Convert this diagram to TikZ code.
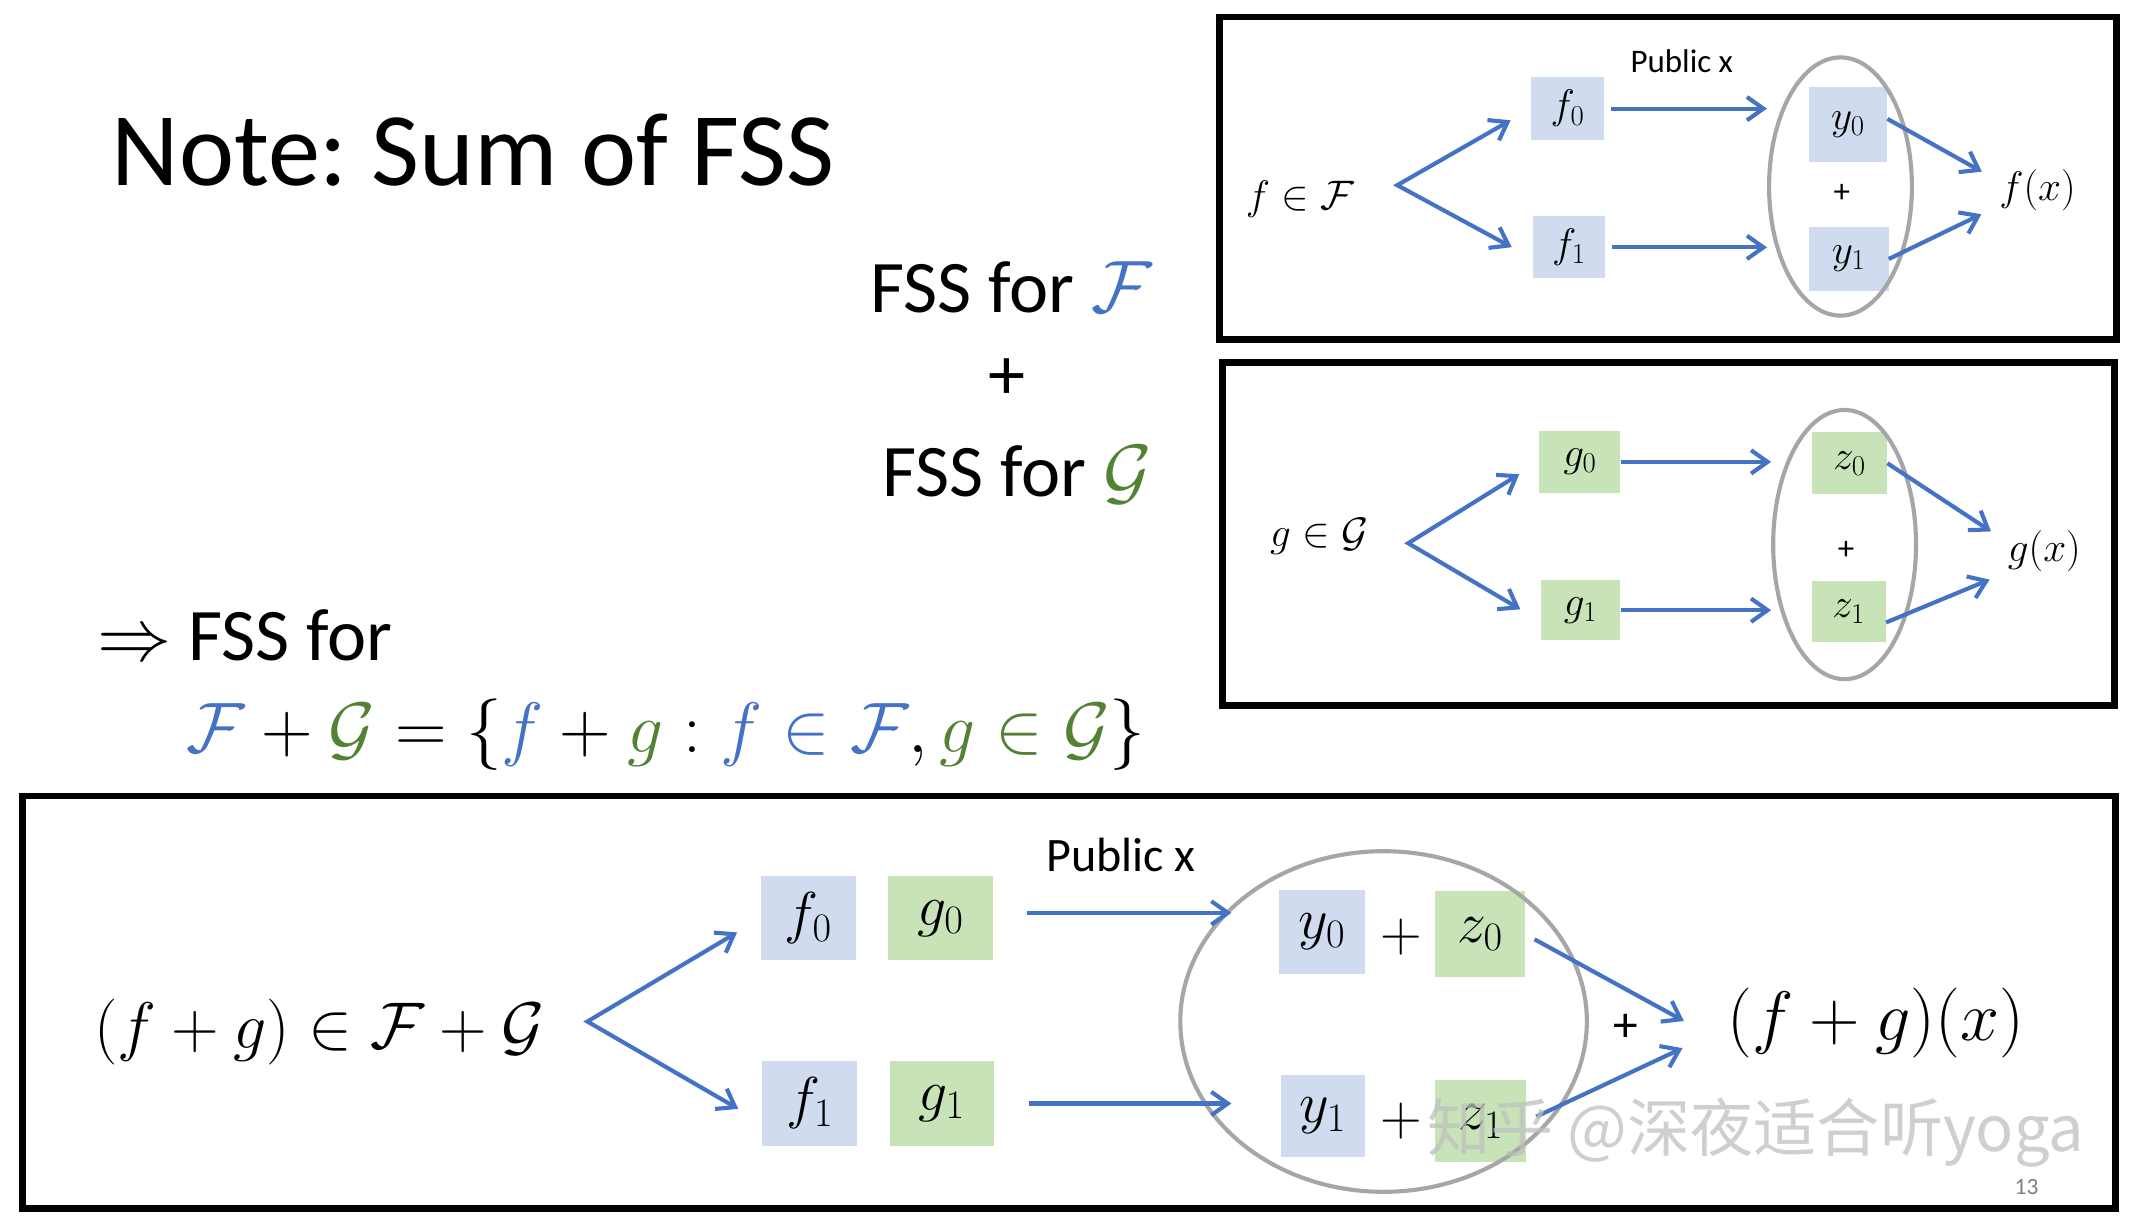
\RequirePackage{fix-cm}
\documentclass[tikz,border=0pt]{standalone}
\usepackage{fontspec}
\setmainfont{Carlito}
\newfontfamily\cjkfont{Noto Sans CJK SC}
\usetikzlibrary{arrows.meta,shapes.geometric}
\definecolor{fssblue}{HTML}{4472C4}
\definecolor{fssgreen}{HTML}{548235}
\definecolor{bluefill}{HTML}{D0DBF0}
\definecolor{greenfill}{HTML}{C9E3B9}
\definecolor{ringgray}{HTML}{A6A6A6}
\frenchspacing
\begin{document}
\begin{tikzpicture}[x=1pt,y=1pt,>={Straight Barb[length=12pt,width=17pt]},
    every node/.style={inner sep=2pt},
    arr/.style={->,draw=fssblue,line width=3pt},
    fork/.style={<->,draw=fssblue,line width=3pt,shorten <=17pt,shorten >=17pt},
    frame/.style={draw=black,line width=5pt},
    ring/.style={draw=ringgray,line width=3pt,ellipse,inner sep=0pt},
    bluebox/.style={fill=bluefill,inner sep=0pt},
    greenbox/.style={fill=greenfill,inner sep=0pt},
    heading/.style={font=\fontsize{54}{64}\selectfont},
    small/.style={font=\fontsize{30}{36}\selectfont},
    big/.style={font=\fontsize{42}{50}\selectfont},
    huge/.style={font=\fontsize{48}{56}\selectfont}]
\fill[white] (0,0) rectangle (1561,895);
\useasboundingbox (0,0) rectangle (1561,895);
\begin{scope}[xshift=-0.6pt,yshift=4pt,xscale=.996,yscale=.995]
% left column
\node[anchor=base west,font=\fontsize{76}{90}\selectfont] (title) at (80,760) {Note: Sum of FSS};
\node[heading,anchor=base east] (sumF) at (845,667) {FSS for \textcolor{fssblue}{$\mathcal{F}$}};
\node[heading] (plusFG) at (737,618) {+};
\node[heading,anchor=base east] (sumG) at (845,532) {FSS for \textcolor{fssgreen}{$\mathcal{G}$}};
\node[heading,anchor=base west] (hence) at (70,412) {$\Rightarrow$ FSS for};
\node[font=\fontsize{52}{62}\selectfont,anchor=base west] (setFG) at (135,345)
  {${\color{fssblue}\mathcal{F}}+{\color{fssgreen}\mathcal{G}}=\{{\color{fssblue}f}+{\color{fssgreen}g}:{\color{fssblue}f\in\mathcal{F}},{\color{fssgreen}g\in\mathcal{G}}\}$};
% FSS for F
\draw[frame] (892,647) rectangle (1548,883);
\node[small] (fF) at (951,750) {$f\in\mathcal{F}$};
\coordinate (bF) at (1022,760);
\node[bluebox,small,minimum width=53pt,minimum height=46pt] (fz) at (1146.5,816) {$f_0$};
\node[bluebox,small,minimum width=53pt,minimum height=45pt] (fo) at (1147.5,714.5) {$f_1$};
\node[font=\fontsize{24}{28}\selectfont] (pubF) at (1230,851) {Public x};
\node[bluebox,small,minimum width=57pt,minimum height=55pt] (yz) at (1351.5,804.5) {$y_0$};
\node[bluebox,small,minimum width=58pt,minimum height=46pt] (yo) at (1352,706) {$y_1$};
\node[ring,minimum width=104pt,minimum height=188pt] (eF) at (1346,759) {};
\node[font=\fontsize{24}{28}\selectfont] (plusF) at (1347,754) {+};
\node[small] (fx) at (1490,756) {$f(x)$};
\draw[fork] (fz.west) -- (bF) -- ([yshift=-8pt]fo.west);
\draw[arr,shorten <=5pt] (fz.east) -- (fz.east -| eF.west);
\draw[arr,shorten <=5pt] (fo.east) -- (fo.east -| eF.west);
\draw[arr,shorten >=12pt] ([yshift=4pt]yz.east) -- ([yshift=8pt]fx.west);
\draw[arr,shorten >=12pt] (yo.east) -- ([yshift=-12pt]fx.west);
% FSS for G
\draw[frame] (894,379) rectangle (1546,630);
\node[small] (gG) at (965,503) {$g\in\mathcal{G}$};
\coordinate (bG) at (1030,498);
\node[greenbox,small,minimum width=59pt,minimum height=45pt] (gz) at (1155.5,557.5) {$g_0$};
\node[greenbox,small,minimum width=58pt,minimum height=44pt] (go) at (1156,449) {$g_1$};
\node[greenbox,small,minimum width=55pt,minimum height=45pt] (zz) at (1352.5,556.5) {$z_0$};
\node[greenbox,small,minimum width=54pt,minimum height=44pt] (zo) at (1352,448) {$z_1$};
\node[ring,minimum width=104pt,minimum height=196pt] (eG) at (1349,497) {};
\node[font=\fontsize{24}{28}\selectfont] (plusG) at (1350,493) {+};
\node[small] (gx) at (1495,492) {$g(x)$};
\draw[fork] (gz.west) -- (bG) -- ([yshift=-8pt]go.west);
\draw[arr] (gz.east) -- (gz.east -| eG.west);
\draw[arr] (go.east) -- (go.east -| eG.west);
\draw[arr,shorten >=12pt] (zz.east) -- ([yshift=8pt]gx.west);
\draw[arr,shorten >=12pt] ([yshift=-8pt]zo.east) -- ([yshift=-16pt]gx.west);
% FSS for F+G
\draw[frame] (17,11) rectangle (1547,313);
\node[huge] (fgS) at (234,140) {$(f+g)\in\mathcal{F}+\mathcal{G}$};
\coordinate (bS) at (430,148);
\node[bluebox,big,minimum width=69pt,minimum height=61pt] (Fz) at (591.5,223.5) {$f_0$};
\node[greenbox,big,minimum width=76pt,minimum height=61pt] (Gz) at (688,223.5) {$g_0$};
\node[bluebox,big,minimum width=69pt,minimum height=62pt] (Fo) at (592.5,88) {$f_1$};
\node[greenbox,big,minimum width=76pt,minimum height=62pt] (Go) at (689,88) {$g_1$};
\node[font=\fontsize{35}{42}\selectfont] (pubS) at (820,270) {Public x};
\node[bluebox,big,minimum width=62pt,minimum height=61pt] (Yz) at (967,213.5) {$y_0$};
\node[big] (plusZ) at (1025,210) {$+$};
\node[greenbox,big,minimum width=65pt,minimum height=62pt] (Zz) at (1082.5,212) {$z_0$};
\node[bluebox,big,minimum width=61pt,minimum height=60pt] (Yo) at (967.5,79) {$y_1$};
\node[big] (plusO) at (1025,75) {$+$};
\node[greenbox,big,minimum width=66pt,minimum height=60pt] (Zo) at (1083,75) {$z_1$};
\node[ring,minimum width=296pt,minimum height=248pt] (eS) at (1012,148) {};
\node[font=\fontsize{36}{42}\selectfont] (plusS) at (1189,143) {+};
\node[font=\fontsize{51}{60}\selectfont] (fgx) at (1372,147) {$(f+g)(x)$};
\draw[fork,shorten <=20pt,shorten >=20pt] (Fz.west) -- (bS) -- ([yshift=-14pt]Fo.west);
\draw[arr,shorten <=25pt,shorten >=-4pt] ([yshift=4pt]Gz.east) -- ([yshift=4pt]Gz.east -| eS.145);
\draw[arr,shorten <=25pt,shorten >=-4pt] (Go.east) -- (Go.east -| eS.145);
\draw[arr,shorten <=8pt,shorten >=34pt] (Zz.east) -- ([yshift=-15pt]fgx.west);
\draw[arr,shorten <=8pt,shorten >=34pt] (Zo.east) -- ([yshift=-4pt]fgx.west);
\node[font=\fontsize{17}{20}\selectfont,text=gray] (page) at (1482,27) {13};
\node[font=\cjkfont\fontsize{46}{52}\selectfont,text=gray!50,opacity=.75] (mark) at (1284,67) {知乎 @深夜适合听yoga};
\end{scope}
\end{tikzpicture}
\end{document}
